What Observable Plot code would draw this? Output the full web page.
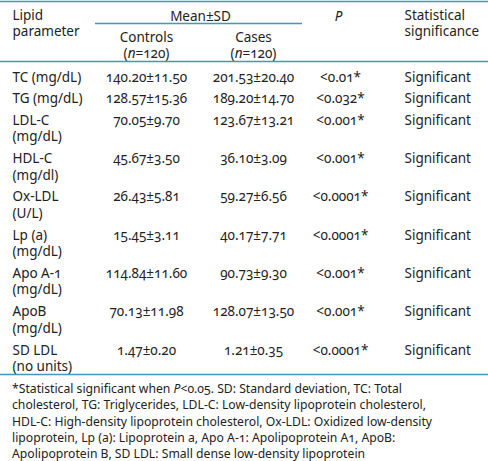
<!DOCTYPE html>
<html>
<head>
<meta charset="utf-8">
<script src="https://cdn.jsdelivr.net/npm/d3@7"></script>
<script src="https://cdn.jsdelivr.net/npm/@observablehq/plot@0.6"></script>
<style>
  html, body { margin: 0; padding: 0; background: #fff; }
  #chart { width: 488px; }
  .foot {
    font-family: "Noto Sans", sans-serif;
    font-size: 12.2px;
    line-height: 16.3px;
    color: #222;
    padding: 3px 0 0 12px;
    white-space: nowrap;
    font-variant-numeric: oldstyle-nums;
  }
</style>
</head>
<body>
<div id="chart"></div>
<script>
// ---- data ----
const parameters = ["TC (mg/dL)", "TG (mg/dL)", "LDL-C\n(mg/dL)", "HDL-C\n(mg/dl)", "Ox-LDL\n(U/L)",
  "Lp (a)\n(mg/dL)", "Apo A-1\n(mg/dL)", "ApoB\n(mg/dL)", "SD LDL\n(no units)"];
const controls = ["140.20±11.50", "128.57±15.36", "70.05±9.70", "45.67±3.50", "26.43±5.81",
  "15.45±3.11", "114.84±11.60", "70.13±11.98", "1.47±0.20"];
const cases = ["201.53±20.40", "189.20±14.70", "123.67±13.21", "36.10±3.09", "59.27±6.56",
  "40.17±7.71", "90.73±9.30", "128.07±13.50", "1.21±0.35"];
const pValues = ["<0.01*", "<0.032*", "<0.001*", "<0.001*", "<0.0001*", "<0.0001*", "<0.001*", "<0.001*", "<0.0001*"];
const significance = ["Significant", "Significant", "Significant", "Significant", "Significant",
  "Significant", "Significant", "Significant", "Significant"];
const headers = ["Lipid\nparameter", "Mean±SD", "Controls\n(n=120)", "Cases\n(n=120)", "P", "Statistical\nsignificance"];
const footnoteLines = [
  "*Statistical significant when <i>P</i>&lt;0.05. SD: Standard deviation, TC: Total",
  "cholesterol, TG: Triglycerides, LDL-C: Low-density lipoprotein cholesterol,",
  "HDL-C: High-density lipoprotein cholesterol, Ox-LDL: Oxidized low-density",
  "lipoprotein, Lp (a): Lipoprotein a, Apo A-1: Apolipoprotein A1, ApoB:",
  "Apolipoprotein B, SD LDL: Small dense low-density lipoprotein"
];

// ---- layout ----
const W = 488, H = 378;
const colX = {param: 12, controls: 146, cases: 253, p: 340, sig: 404};
const fs = 13.5;
const lineH = 16.5;
const rowY = [];
{
  let y = 75;
  parameters.forEach(p => {
    rowY.push(y);
    y += p.includes("\n") ? 38.3 : 21.5;
  });
}
const teal = "#3a9cbd";

const bodyLeft = [], bodyMid = [];
parameters.forEach((p, i) => {
  bodyLeft.push({x: colX.param, y: rowY[i], t: p});
  bodyLeft.push({x: colX.sig, y: rowY[i], t: significance[i]});
  bodyMid.push({x: colX.controls, y: rowY[i], t: controls[i]});
  bodyMid.push({x: colX.cases, y: rowY[i], t: cases[i]});
  bodyMid.push({x: colX.p, y: rowY[i], t: pValues[i]});
});
const headLeft = [
  {x: colX.param, y: 13, t: headers[0]},
  {x: colX.sig, y: 13, t: headers[5]}
];
const headMid = [
  {x: 200, y: 14, t: headers[1]},
  {x: colX.controls, y: 35, t: headers[2]},
  {x: colX.cases, y: 35, t: headers[3]}
];
const headItalic = [{x: 338, y: 14, t: headers[4]}];

const fullRules = [1, 61, 374];

const textOpts = {x: "x", y: "y", text: "t", lineAnchor: "top", dy: -5.5, lineHeight: lineH / fs, fontSize: fs};

const plot = Plot.plot({
  width: W,
  height: H,
  margin: 0,
  x: {type: "linear", domain: [0, W], range: [0, W], axis: null},
  y: {type: "linear", domain: [0, H], range: [0, H], axis: null},
  style: {fontFamily: "'Noto Sans', sans-serif", fontSize: fs + "px", color: "#222", fontVariantNumeric: "oldstyle-nums", background: "#fff"},
  marks: [
    Plot.ruleY(fullRules, {x1: 0, x2: W, stroke: teal, strokeWidth: 1.5}),
    Plot.ruleY([23], {x1: 95, x2: 302, stroke: teal, strokeWidth: 1.5}),
    Plot.text(headLeft, {...textOpts, textAnchor: "start"}),
    Plot.text(headMid, {...textOpts, textAnchor: "middle"}),
    Plot.text(headItalic, {...textOpts, textAnchor: "middle", fontStyle: "italic"}),
    Plot.text(bodyLeft, {...textOpts, textAnchor: "start"}),
    Plot.text(bodyMid, {...textOpts, textAnchor: "middle"})
  ]
});

// italicise the "n" of "(n=120)"
d3.select(plot).selectAll("tspan").each(function () {
  if (this.textContent === "(n=120)") {
    const s = d3.select(this);
    s.text("");
    s.append("tspan").text("(");
    s.append("tspan").style("font-style", "italic").text("n");
    s.append("tspan").text("=120)");
  }
});

document.getElementById("chart").appendChild(plot);
const foot = document.createElement("div");
foot.className = "foot";
foot.innerHTML = footnoteLines.join("<br>");
document.getElementById("chart").appendChild(foot);
</script>
</body>
</html>
